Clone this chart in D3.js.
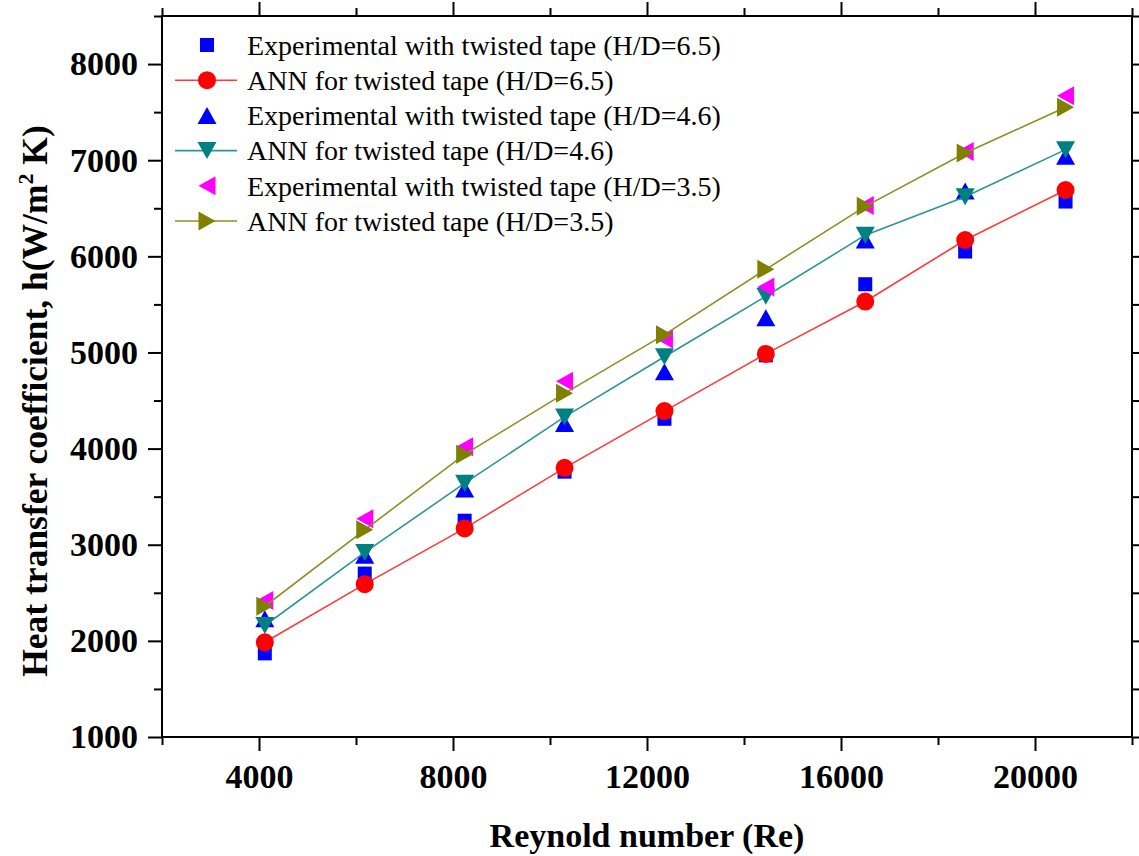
<!DOCTYPE html>
<html>
<head>
<meta charset="utf-8">
<script src="https://cdn.jsdelivr.net/npm/d3@7"></script>
<style>
  html, body { margin: 0; padding: 0; background: #fff; }
  svg { display: block; }
  text { font-family: "Liberation Serif", "Times New Roman", serif; fill: #000; }
</style>
</head>
<body>
<svg id="chart" width="1139" height="856"></svg>
<script>
// Reynolds numbers at which h was measured / predicted
const reynolds = [4120, 6180, 8240, 10300, 12360, 14450, 16500, 18560, 20630];

// Heat transfer coefficient h (W/m^2 K)
const expHD65 = [1870, 2700, 3250, 3760, 4310, 4970, 5710, 6050, 6570];
const annHD65 = [1985, 2590, 3170, 3800, 4390, 4985, 5530, 6170, 6690];
const expHD46 = [2230, 2890, 3580, 4260, 4800, 5360, 6170, 6680, 7040];
const annHD46 = [2160, 2920, 3640, 4330, 4955, 5585, 6220, 6620, 7110];
const expHD35 = [2420, 3270, 4020, 4700, 5140, 5680, 6530, 7090, 7670];
const annHD35 = [2360, 3155, 3940, 4575, 5185, 5865, 6520, 7075, 7550];

const seriesNames = [
  "Experimental with twisted tape (H/D=6.5)",
  "ANN for twisted tape (H/D=6.5)",
  "Experimental with twisted tape (H/D=4.6)",
  "ANN for twisted tape (H/D=4.6)",
  "Experimental with twisted tape (H/D=3.5)",
  "ANN for twisted tape (H/D=3.5)"
];

const xMajorTicks = [4000, 8000, 12000, 16000, 20000];
const xMinorTicks = [2000, 6000, 10000, 14000, 18000, 22000];
const yMajorTicks = [1000, 2000, 3000, 4000, 5000, 6000, 7000, 8000];
const yMinorTicks = [1500, 2500, 3500, 4500, 5500, 6500, 7500, 8500];

const series = [
  { name: seriesNames[0], values: expHD65, shape: "square",   color: "#0000ff", line: null },
  { name: seriesNames[1], values: annHD65, shape: "circle",   color: "#ff0000", line: "#ff3a3a" },
  { name: seriesNames[2], values: expHD46, shape: "triUp",    color: "#0000ff", line: null },
  { name: seriesNames[3], values: annHD46, shape: "triDown",  color: "#008080", line: "#2a9696" },
  { name: seriesNames[4], values: expHD35, shape: "triLeft",  color: "#ff00ff", line: null },
  { name: seriesNames[5], values: annHD35, shape: "triRight", color: "#808000", line: "#8f8f22" }
];

const plot = { left: 162, right: 1132, top: 16, bottom: 737 };

const x = d3.scaleLinear().domain([2000, 22000]).range([plot.left, plot.right]);
const y = d3.scaleLinear().domain([1000, 8500]).range([plot.bottom, plot.top]);

const svg = d3.select("#chart");

// Marker path centred on (0,0)
function markerPath(shape) {
  const p = d3.path();
  if (shape === "square") {
    const h = 7;
    p.rect(-h, -h, 2 * h, 2 * h);
  } else if (shape === "circle") {
    p.arc(0, 0, 9, 0, 2 * Math.PI);
  } else {
    const w = 9.5, hh = 8.5;
    if (shape === "triUp")   { p.moveTo(0, -hh); p.lineTo(w, hh); p.lineTo(-w, hh); }
    if (shape === "triDown") { p.moveTo(0, hh); p.lineTo(w, -hh); p.lineTo(-w, -hh); }
    if (shape === "triLeft") { p.moveTo(-hh, 0); p.lineTo(hh, -w); p.lineTo(hh, w); }
    if (shape === "triRight"){ p.moveTo(hh, 0); p.lineTo(-hh, -w); p.lineTo(-hh, w); }
    p.closePath();
  }
  return p.toString();
}

// Data series: connecting line (ANN) followed by markers
const lineGen = d3.line().x((d, i) => x(reynolds[i])).y(d => y(d));
series.forEach(s => {
  const g = svg.append("g");
  if (s.line) {
    g.append("path")
      .attr("d", lineGen(s.values))
      .attr("fill", "none")
      .attr("stroke", s.line)
      .attr("stroke-width", 1.6);
  }
  g.selectAll("path.mk")
    .data(s.values)
    .join("path")
    .attr("class", "mk")
    .attr("transform", (d, i) => `translate(${x(reynolds[i])},${y(d)})`)
    .attr("d", markerPath(s.shape))
    .attr("fill", s.color);
});

// Axes: major ticks labelled on bottom/left, mirrored unlabelled on top/right
function styleAxis(g) {
  g.select(".domain").remove();
  g.selectAll(".tick line").attr("stroke", "#000").attr("stroke-width", 2);
}
const tickFont = g => g.selectAll("text")
  .style("font-family", "'Liberation Serif', 'Times New Roman', serif")
  .style("font-weight", "bold")
  .style("font-size", "34px")
  .attr("fill", "#000");

svg.append("g").attr("transform", `translate(0,${plot.bottom})`)
  .call(d3.axisBottom(x).tickValues(xMajorTicks).tickSize(14).tickPadding(13).tickFormat(d3.format("d")))
  .call(styleAxis).call(tickFont);
svg.append("g").attr("transform", `translate(0,${plot.bottom})`)
  .call(d3.axisBottom(x).tickValues(xMinorTicks).tickSize(8).tickFormat(""))
  .call(styleAxis);
svg.append("g").attr("transform", `translate(0,${plot.top})`)
  .call(d3.axisTop(x).tickValues(xMajorTicks).tickSize(14).tickFormat(""))
  .call(styleAxis);
svg.append("g").attr("transform", `translate(0,${plot.top})`)
  .call(d3.axisTop(x).tickValues(xMinorTicks).tickSize(8).tickFormat(""))
  .call(styleAxis);

svg.append("g").attr("transform", `translate(${plot.left},0)`)
  .call(d3.axisLeft(y).tickValues(yMajorTicks).tickSize(14).tickPadding(10).tickFormat(d3.format("d")))
  .call(styleAxis).call(tickFont);
svg.append("g").attr("transform", `translate(${plot.left},0)`)
  .call(d3.axisLeft(y).tickValues(yMinorTicks).tickSize(8).tickFormat(""))
  .call(styleAxis);
svg.append("g").attr("transform", `translate(${plot.right},0)`)
  .call(d3.axisRight(y).tickValues(yMajorTicks).tickSize(14).tickFormat(""))
  .call(styleAxis);
svg.append("g").attr("transform", `translate(${plot.right},0)`)
  .call(d3.axisRight(y).tickValues(yMinorTicks).tickSize(8).tickFormat(""))
  .call(styleAxis);

// Plot frame
svg.append("rect")
  .attr("x", plot.left).attr("y", plot.top)
  .attr("width", plot.right - plot.left).attr("height", plot.bottom - plot.top)
  .attr("fill", "none").attr("stroke", "#000").attr("stroke-width", 2);

// Axis titles
svg.append("text")
  .attr("x", (plot.left + plot.right) / 2).attr("y", 847)
  .attr("text-anchor", "middle")
  .style("font-weight", "bold").style("font-size", "34px")
  .text("Reynold number (Re)");

const yTitle = svg.append("text")
  .attr("transform", "translate(47,401) rotate(-90)")
  .attr("text-anchor", "middle")
  .style("font-weight", "bold").style("font-size", "35.5px");
yTitle.append("tspan").text("Heat transfer coefficient, h(W/m");
yTitle.append("tspan").attr("dy", -14).style("font-size", "22px").text("2");
yTitle.append("tspan").attr("dy", 14).text(" K)");

// Legend
const legendRows = [45, 80.2, 115.4, 150.6, 185.8, 221];
const legend = svg.append("g");
series.forEach((s, i) => {
  const ly = legendRows[i];
  if (s.line) {
    legend.append("line")
      .attr("x1", 175).attr("x2", 237).attr("y1", ly).attr("y2", ly)
      .attr("stroke", s.line).attr("stroke-width", 1.6);
  }
  legend.append("path")
    .attr("transform", `translate(207,${ly})`)
    .attr("d", markerPath(s.shape))
    .attr("fill", s.color);
  legend.append("text")
    .attr("x", 247).attr("y", ly)
    .attr("dy", "0.35em")
    .style("font-size", "28px")
    .text(s.name);
});
</script>
</body>
</html>
